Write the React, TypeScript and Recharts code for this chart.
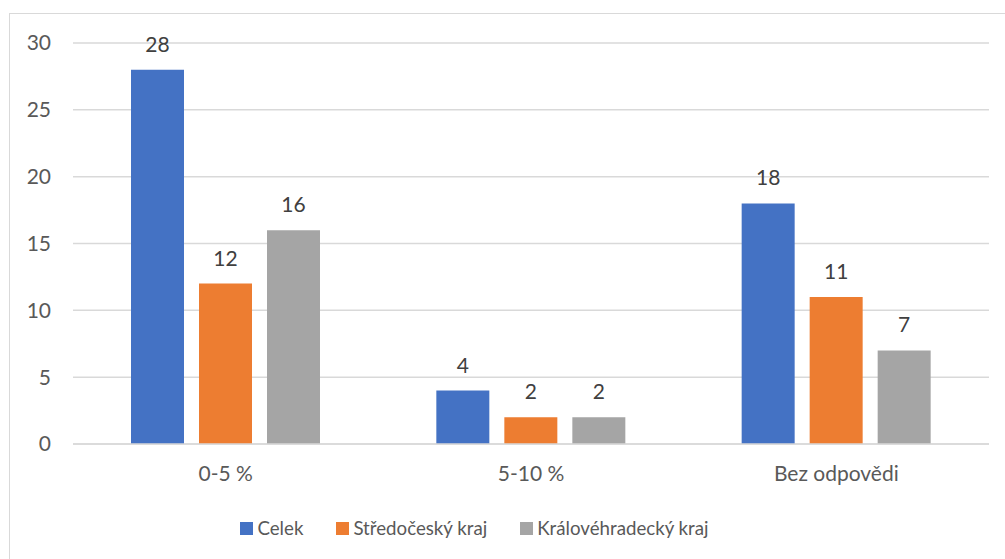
import { BarChart, Bar, XAxis, YAxis, CartesianGrid, Legend, LabelList } from "recharts"

const categories = ["0-5 %", "5-10 %", "Bez odpovědi"]
const celek = [28, 4, 18]
const stredocesky = [12, 2, 11]
const kralovehradecky = [16, 2, 7]
const yTicks = [0, 5, 10, 15, 20, 25, 30]

const series = [
  { key: "celek", name: "Celek", color: "#4472C4" },
  { key: "stredocesky", name: "Středočeský kraj", color: "#ED7D31" },
  { key: "kralovehradecky", name: "Královéhradecký kraj", color: "#A5A5A5" }
]

const data = categories.map((c, i) => ({
  category: c,
  celek: celek[i],
  stredocesky: stredocesky[i],
  kralovehradecky: kralovehradecky[i]
}))

const FONT = "Lato, 'Noto Sans', sans-serif"

// legend sits a little left of centre in the original
function LegendContent() {
  return (
    <div style={{ display: "flex", justifyContent: "center", height: 30, alignItems: "center", paddingRight: 40, fontFamily: FONT, fontSize: 18.7, color: "#595959" }}>
      {series.map((s, i) => (
        <div key={s.key} style={{ display: "flex", alignItems: "center", marginLeft: i === 0 ? 0 : 33 }}>
          <span style={{ width: 13, height: 13, background: s.color, display: "inline-block", marginRight: 4 }} />
          <span>{s.name}</span>
        </div>
      ))}
    </div>
  )
}

export default function App() {
  return (
    <div style={{ position: "absolute", left: 0, top: 0, width: 1005, height: 559, overflow: "hidden", background: "#fff" }}>
      <div style={{ position: "absolute", left: 9, top: 13, width: 1010, height: 600, border: "1.5px solid #D9D9D9" }} />
      <BarChart
        width={1005}
        height={559}
        data={data}
        margin={{ top: 43, right: 16, bottom: 16, left: 0 }}
        barGap={15}
        style={{ position: "absolute", left: 0, top: 0 }}
      >
        <CartesianGrid vertical={false} stroke="#D9D9D9" strokeWidth={1.5} />
        <XAxis
          dataKey="category"
          height={69}
          axisLine={{ stroke: "#D9D9D9", strokeWidth: 1.5 }}
          tickLine={false}
          tickMargin={16}
          tick={{ fill: "#595959", fontSize: 21, fontFamily: FONT }}
        />
        <YAxis
          width={73}
          domain={[0, 30]}
          ticks={yTicks}
          axisLine={false}
          tickLine={false}
          tickSize={0}
          tickMargin={22}
          tick={{ fill: "#595959", fontSize: 21, fontFamily: FONT }}
        />
        <Legend verticalAlign="bottom" height={30} content={<LegendContent />} />
        {series.map((s) => (
          <Bar key={s.key} dataKey={s.key} name={s.name} fill={s.color} barSize={53} isAnimationActive={false}>
            <LabelList dataKey={s.key} position="top" offset={18} fill="#404040" fontSize={21} fontFamily={FONT} />
          </Bar>
        ))}
      </BarChart>
    </div>
  )
}
